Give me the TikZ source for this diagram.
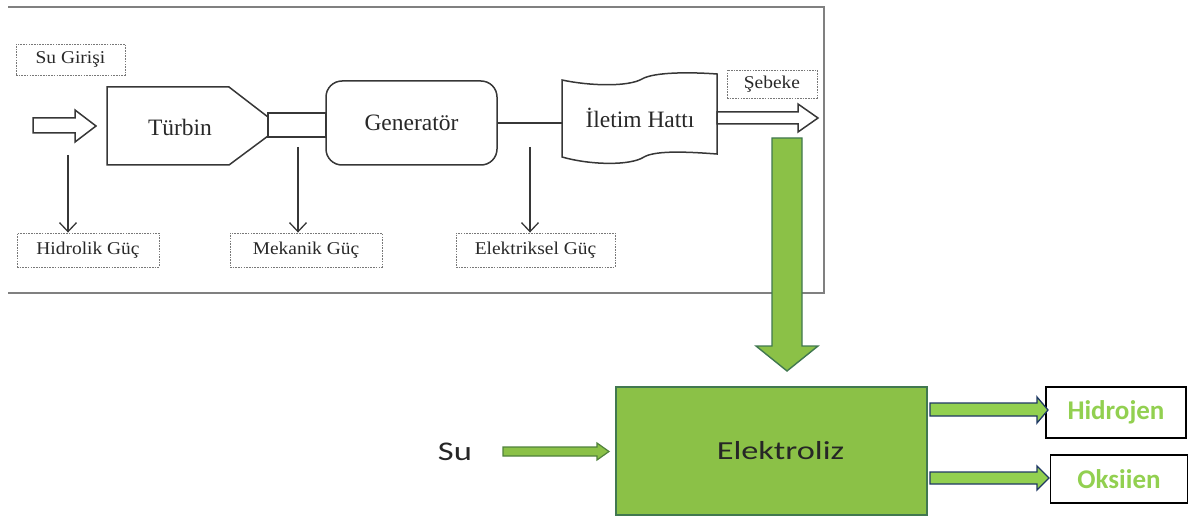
\documentclass[tikz,border=0pt]{standalone}
\usepackage{fontspec}
\setmainfont{Liberation Serif}
\newfontfamily\calib{Carlito}
\usetikzlibrary{arrows.meta}
\definecolor{framegray}{RGB}{128,128,128}
\definecolor{linegray}{RGB}{55,55,55}
\definecolor{txtgray}{RGB}{40,40,40}
\definecolor{dashgray}{RGB}{120,120,120}
\definecolor{elgreen}{RGB}{139,193,71}
\definecolor{elborder}{RGB}{65,120,80}
\definecolor{argreen}{RGB}{146,208,80}
\definecolor{arblue}{RGB}{31,56,100}
\definecolor{sugreen}{RGB}{80,130,60}
\definecolor{txtgreen}{RGB}{146,208,80}
\begin{document}
\begin{tikzpicture}[x=1pt,y=-1pt,
  dashbox/.style={draw=dashgray, dash pattern=on 1.6pt off 1.1pt, line width=0.9pt, inner sep=0pt, text=txtgray, font=\fontsize{18}{21}\selectfont},
  blk/.style={draw=linegray, line width=1.5pt},
  bigtxt/.style={text=txtgray, font=\fontsize{23.5}{28}\selectfont, inner sep=0pt},
  downarr/.style={draw=linegray, line width=1.3pt, -{Straight Barb[length=9pt,width=17pt,line width=1.3pt]}},
  greenbox/.style={draw=elborder, fill=elgreen, line width=1.4pt},
  outarr/.style={draw=arblue, fill=argreen, line width=1.3pt, line join=miter},
  resbox/.style={draw=black, fill=white, line width=1.5pt, inner sep=0pt, text=txtgreen, font=\calib\bfseries\fontsize{27}{32}\selectfont}
]
\useasboundingbox (0,0) rectangle (1189,516);
% frame
\draw[framegray, line width=2pt] (8,7) -- (824,7) -- (824,293) -- (8,293);
% Su Girisi
\node[dashbox, minimum width=109pt, minimum height=31pt] (sugir) at (70.5,59.5) {\scalebox{1.08}[1]{Su Girişi}};
% input hollow arrow
\draw[blk, line join=miter] (33,118) -- (75,118) -- (75,110) -- (96,126) -- (75,142) -- (75,133) -- (33,133) -- cycle;
% turbine
\draw[blk] (107,87) -- (229,87) -- (268,117) -- (268,136) -- (229,165) -- (107,165) -- cycle;
\node[bigtxt] (turbin) at (180,127) {Türbin};
% shaft
\node[blk, minimum width=58pt, minimum height=24pt, inner sep=0pt] (shaft) at (297,125) {};
% generator
\node[blk, bigtxt, rounded corners=16pt, minimum width=171pt, minimum height=84pt] (gen) at (411.5,123) {Generatör};
% iletim hatti
\draw[blk] (562,80) .. controls (590,86) and (628,87) .. (642,79) .. controls (654,72) and (690,72) .. (717,74) -- (717,154) .. controls (690,152) and (656,150) .. (644,157) .. controls (630,166) and (590,165) .. (562,157) -- cycle;
\coordinate (iletimW) at (562,123);
\node[bigtxt] (iletim) at (640,118) {İletim Hattı};
\draw[blk] (gen.east) -- (iletimW);
% sebeke
\node[dashbox, minimum width=90pt, minimum height=28pt] (sebeke) at (772,84) {\scalebox{1.08}[1]{Şebeke}};
% output hollow arrow
\draw[blk, line join=miter] (717,112) -- (798,112) -- (798,104) -- (818,118) -- (798,132) -- (798,124) -- (717,124) -- cycle;
% lower labels
\node[dashbox, minimum width=142pt, minimum height=34pt] (hid) at (88,250) {\scalebox{1.08}[1]{Hidrolik Güç}};
\node[dashbox, minimum width=152pt, minimum height=34pt] (mek) at (306,250) {\scalebox{1.08}[1]{Mekanik Güç}};
\node[dashbox, minimum width=159pt, minimum height=34pt] (elk) at (535.5,250) {\scalebox{1.08}[1]{Elektriksel Güç}};
\coordinate (h0) at (68,155);
\coordinate (m0) at (298,147);
\coordinate (e0) at (530,147);
\draw[downarr] (h0) -- (h0 |- hid.north);
\draw[downarr] (m0) -- (m0 |- mek.north);
\draw[downarr] (e0) -- (e0 |- elk.north);
% big green arrow
\draw[greenbox, line join=miter] (772,138) -- (802,138) -- (802,346) -- (818,346) -- (787,371) -- (756,346) -- (772,346) -- cycle;
% elektroliz
\node[greenbox, minimum width=311pt, minimum height=128pt, inner sep=0pt, font=\calib\fontsize{26}{30}\selectfont, text=black!85] (elek) at (771.5,451) {\hspace*{18pt}\scalebox{1.32}[1]{Elektroliz}};
% Su
\node[font=\calib\fontsize{27}{32}\selectfont, text=black!85, inner sep=0pt] (su) at (455,452) {\scalebox{1.28}[1]{Su}};
\draw[draw=sugreen, fill=elgreen, line width=1.2pt, line join=miter] (503,447) -- (597,447) -- (597,443) -- (609,451.5) -- (597,460) -- (597,456) -- (503,456) -- cycle;
% outputs
\node[resbox, minimum width=140pt, minimum height=51pt] (hidro) at (1116,412.5) {Hidrojen};
\node[resbox, minimum width=137pt, minimum height=48pt] (oksi) at (1119,479) {Oksiien};
\draw[outarr] (930,403) -- (1037,403) -- (1037,397) -- (1048,410) -- (1037,423) -- (1037,416) -- (930,416) -- cycle;
\draw[outarr] (930,472) -- (1037,472) -- (1037,466) -- (1049,478) -- (1037,490) -- (1037,484) -- (930,484) -- cycle;
\end{tikzpicture}
\end{document}
